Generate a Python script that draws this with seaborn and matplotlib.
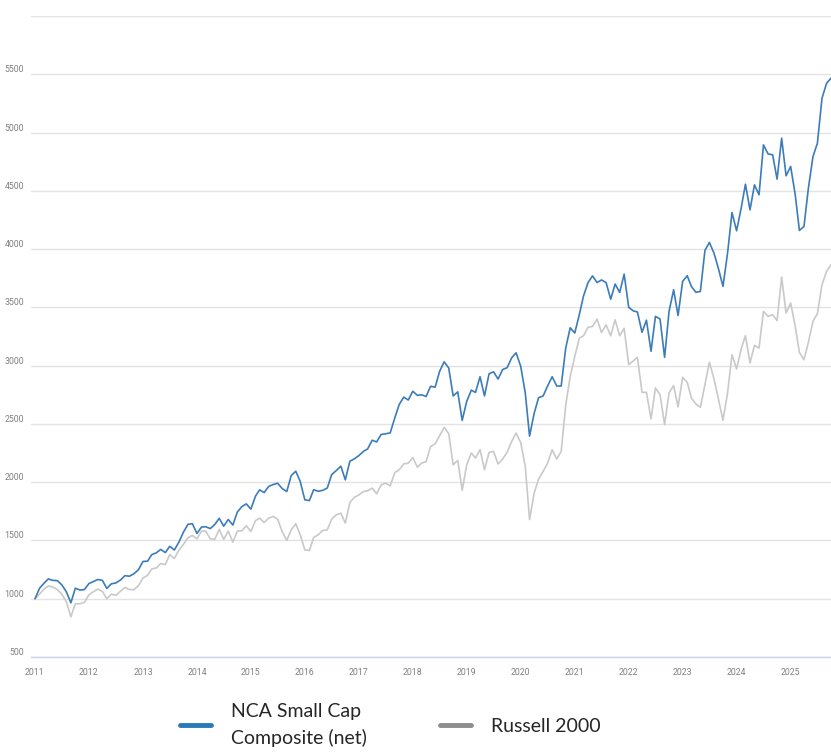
import pandas as pd
import matplotlib
matplotlib.use("Agg")
import matplotlib.pyplot as plt
import matplotlib.dates as mdates
from matplotlib.lines import Line2D
import seaborn as sns

# monthly growth of 1000, Jan 2011 - Oct 2025
start_month = "2011-01-01"

nca_values = [
    1000, 1090, 1130, 1170, 1158, 1155, 1120, 1060, 965, 1090, 1075, 1078,   # 2011
    1130, 1148, 1165, 1158, 1088, 1128, 1135, 1160, 1198, 1193, 1215, 1248,  # 2012
    1320, 1322, 1378, 1394, 1423, 1396, 1450, 1418, 1486, 1570, 1638, 1644,  # 2013
    1560, 1615, 1618, 1602, 1636, 1690, 1622, 1680, 1632, 1743, 1790, 1814,  # 2014
    1769, 1880, 1934, 1911, 1963, 1980, 1991, 1945, 1920, 2057, 2094, 2006,  # 2015
    1849, 1842, 1936, 1922, 1930, 1950, 2065, 2100, 2137, 2020, 2180, 2200,  # 2016
    2228, 2265, 2285, 2360, 2345, 2410, 2415, 2423, 2552, 2667, 2730, 2705,  # 2017
    2780, 2745, 2750, 2735, 2823, 2815, 2950, 3033, 2980, 2740, 2775, 2530,  # 2018
    2695, 2790, 2770, 2905, 2740, 2930, 2947, 2885, 2967, 2982, 3067, 3110,  # 2019
    2995, 2766, 2395, 2590, 2725, 2740, 2825, 2905, 2825, 2825, 3153, 3325,  # 2020
    3280, 3440, 3597, 3713, 3770, 3713, 3735, 3713, 3570, 3700, 3628, 3785,  # 2021
    3500, 3470, 3460, 3286, 3390, 3123, 3423, 3400, 3071, 3466, 3651, 3430,  # 2022
    3723, 3771, 3680, 3629, 3637, 3989, 4057, 3966, 3829, 3680, 3966, 4314,  # 2023
    4157, 4351, 4557, 4337, 4551, 4466, 4894, 4817, 4809, 4600, 4951, 4629,  # 2024
    4709, 4466, 4160, 4194, 4523, 4794, 4909, 5294, 5423, 5466,              # 2025
]

russell_values = [
    1000, 1040, 1080, 1110, 1100, 1078, 1040, 975, 845, 957, 957, 968,       # 2011
    1034, 1060, 1083, 1063, 1000, 1040, 1029, 1063, 1098, 1078, 1078, 1112,  # 2012
    1178, 1201, 1256, 1264, 1302, 1293, 1379, 1345, 1417, 1466, 1523, 1543,  # 2013
    1514, 1580, 1580, 1514, 1509, 1595, 1509, 1580, 1486, 1580, 1583, 1626,  # 2014
    1577, 1670, 1691, 1654, 1691, 1706, 1683, 1575, 1500, 1591, 1643, 1549,  # 2015
    1420, 1414, 1526, 1549, 1586, 1591, 1683, 1720, 1734, 1649, 1826, 1870,  # 2016
    1891, 1920, 1926, 1949, 1900, 1977, 1991, 1969, 2083, 2106, 2157, 2163,  # 2017
    2211, 2129, 2163, 2177, 2306, 2329, 2397, 2470, 2416, 2150, 2187, 1930,  # 2018
    2150, 2250, 2207, 2279, 2107, 2256, 2264, 2156, 2199, 2256, 2350, 2421,  # 2019
    2341, 2136, 1679, 1907, 2027, 2093, 2164, 2279, 2199, 2264, 2664, 2907,  # 2020
    3079, 3236, 3256, 3330, 3336, 3399, 3284, 3350, 3256, 3393, 3256, 3321,  # 2021
    3010, 3040, 3071, 2771, 2771, 2543, 2809, 2751, 2494, 2766, 2829, 2646,  # 2022
    2900, 2857, 2723, 2671, 2643, 2837, 3029, 2886, 2709, 2531, 2766, 3094,  # 2023
    2971, 3143, 3257, 3023, 3174, 3151, 3466, 3423, 3437, 3386, 3760, 3451,  # 2024
    3537, 3337, 3114, 3051, 3200, 3380, 3446, 3694, 3809, 3866,              # 2025
]

series_names = ["NCA Small Cap\nComposite (net)", "Russell 2000"]
year_ticks = list(range(2011, 2026))
y_ticks = list(range(500, 6001, 500))

dates = pd.date_range(start_month, periods=len(nca_values), freq="MS")
df = pd.concat([
    pd.DataFrame({"date": dates, "value": nca_values, "series": series_names[0]}),
    pd.DataFrame({"date": dates, "value": russell_values, "series": series_names[1]}),
])

sns.set_style("white")
plt.rcParams["font.family"] = ["Roboto", "DejaVu Sans"]

fig = plt.figure(figsize=(8.31, 7.56), dpi=100)
ax = fig.add_axes([31 / 831, 1 - 657 / 756, 800 / 831, 641 / 756])

line_colors = {series_names[0]: "#3b7cb9", series_names[1]: "#c9c9c9"}
sns.lineplot(data=df[df.series == series_names[1]], x="date", y="value",
             color=line_colors[series_names[1]], linewidth=1.2, ax=ax, legend=False)
sns.lineplot(data=df[df.series == series_names[0]], x="date", y="value",
             color=line_colors[series_names[0]], linewidth=1.2, ax=ax, legend=False)

ax.set_xlim(pd.Timestamp("2010-12-05"), dates[-1])
ax.set_ylim(500, 6000)
ax.set_xlabel("")
ax.set_ylabel("")

# grid + axes styling
ax.set_yticks(y_ticks)
ax.set_yticklabels([str(v) if v < 6000 else "" for v in y_ticks])
ax.yaxis.grid(True, color="#e3e3e3", linewidth=1)
ax.set_axisbelow(True)
for side in ["top", "right", "left"]:
    ax.spines[side].set_visible(False)
ax.spines["bottom"].set_color("#ccd6eb")
ax.spines["bottom"].set_linewidth(1)

ax.set_xticks([pd.Timestamp(f"{y}-01-01") for y in year_ticks])
ax.xaxis.set_major_formatter(mdates.DateFormatter("%Y"))
ax.tick_params(axis="x", colors="#ccd6eb", length=4, width=1, pad=4,
               labelcolor="#808080", labelsize=6.3)
ax.tick_params(axis="y", length=0, pad=5, labelcolor="#808080", labelsize=6.3)
for lab in ax.get_yticklabels():
    lab.set_verticalalignment("bottom")

# legend below the chart
handles = [Line2D([], [], color="#2a7ab8", linewidth=3.5),
           Line2D([], [], color="#8e8e8e", linewidth=3.5)]
leg = fig.legend(handles, series_names, loc="upper left", ncol=2,
                 bbox_to_anchor=(180 / 831, 1 - 703 / 756), frameon=False,
                 prop={"family": "Lato", "size": 14},
                 handlelength=1.6, handletextpad=1.0, columnspacing=3.8,
                 borderpad=0, borderaxespad=0)
for t in leg.get_texts():
    t.set_linespacing(1.6)

plt.savefig("out.png", dpi=100)
